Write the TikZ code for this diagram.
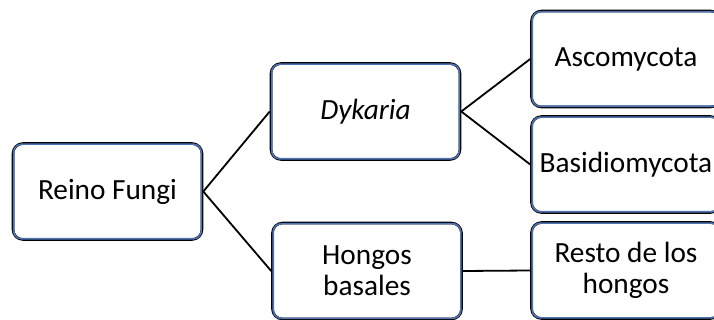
\documentclass[tikz,border=0pt]{standalone}
\usepackage{fontspec}
\setmainfont{Carlito}
\definecolor{boxblue}{HTML}{4F72B0}
\begin{document}
\begin{tikzpicture}[x=1pt,y=-1pt,
  box/.style={rectangle, rounded corners=10pt, draw=black, line width=2.6pt,
    fill=white, minimum width=#1, minimum height=96pt, inner sep=0pt,
    align=center, font=\fontsize{29.3}{31}\selectfont},
  box/.default=189pt,
  link/.style={draw=black, line width=1.8pt}]
\useasboundingbox (0,0) rectangle (714,320);
\node[box] (rf) at (107.5,191.5) {Reino Fungi};
\node[box] (dk) at (365.5,111.5) {\itshape Dykaria};
\node[box] (hb) at (367,271) {Hongos\\basales};
\node[box] (as) at (626,59) {Ascomycota};
\node[box] (ba) at (626,164.5) {Basidiomycota};
\node[box] (re) at (626,270.5) {Resto de los\\hongos};
\foreach \n in {rf,dk,hb,as,ba,re}{
  \draw[boxblue, line width=1.6pt, rounded corners=8pt]
    ([shift={(2pt,2pt)}]\n.south west) rectangle ([shift={(-2pt,-2pt)}]\n.north east);
}
\draw[link] (rf.east) -- (dk.west);
\draw[link] (rf.east) -- (hb.west);
\draw[link] (dk.east) -- (as.west);
\draw[link] (dk.east) -- (ba.west);
\draw[link] (hb.east) -- (re.west);
\end{tikzpicture}
\end{document}
